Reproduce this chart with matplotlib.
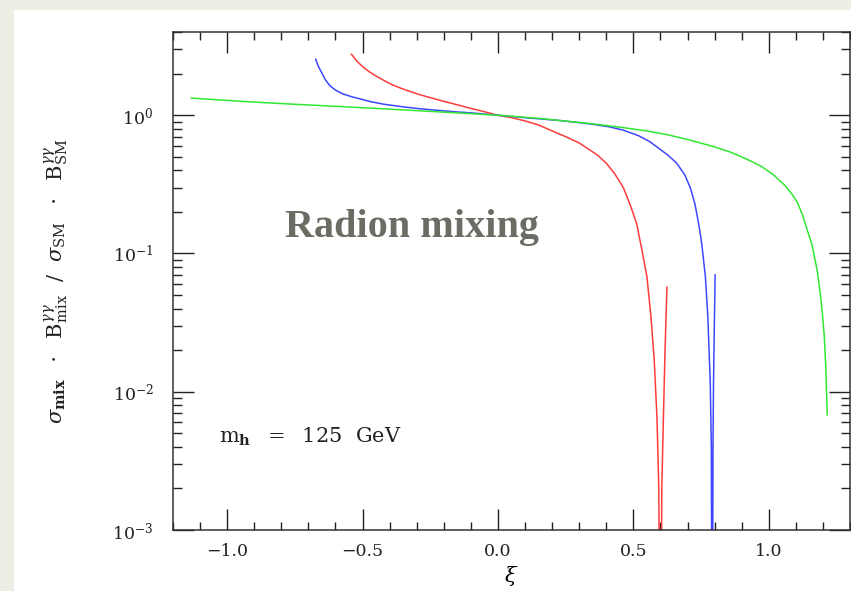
import matplotlib
matplotlib.use("Agg")
import matplotlib.pyplot as plt
from matplotlib.patches import Rectangle
from matplotlib.ticker import MultipleLocator, LogLocator, NullFormatter, FuncFormatter

plt.rcParams['font.family'] = 'DejaVu Serif'
plt.rcParams['mathtext.fontset'] = 'dejavuserif'

# curves (xi, sigma*B ratio)
xi_red = [-0.541, -0.52, -0.5, -0.475, -0.45, -0.42, -0.39, -0.352, -0.3, -0.25,
          -0.2, -0.15, -0.1, -0.05, 0.0, 0.05, 0.1, 0.15, 0.2, 0.25,
          0.3, 0.34, 0.37, 0.40, 0.43, 0.463, 0.49, 0.512, 0.53, 0.55,
          0.565, 0.577, 0.587, 0.594, 0.600, 0.605, 0.611, 0.617, 0.624]
val_red = [2.76, 2.45, 2.25, 2.06, 1.92, 1.78, 1.66, 1.55, 1.43, 1.34,
           1.26, 1.19, 1.12, 1.06, 1.00, 0.96, 0.91, 0.85, 0.77, 0.70,
           0.63, 0.56, 0.51, 0.45, 0.38, 0.30, 0.22, 0.165, 0.11, 0.068,
           0.035, 0.017, 0.0066, 0.002, 1e-5, 0.002, 0.0066, 0.02, 0.057]

xi_blue = [-0.673, -0.665, -0.655, -0.645, -0.636, -0.62, -0.6, -0.574, -0.54, -0.5,
           -0.475, -0.42, -0.35, -0.29, -0.228, -0.16, -0.1, -0.05, 0.0, 0.1,
           0.216, 0.3, 0.35, 0.41, 0.463, 0.52, 0.56, 0.587, 0.63, 0.66,
           0.69, 0.71, 0.727, 0.741, 0.752, 0.766, 0.775, 0.784, 0.788, 0.791,
           0.794, 0.796, 0.799, 0.802]
val_blue = [2.54, 2.3, 2.1, 1.93, 1.79, 1.63, 1.52, 1.43, 1.36, 1.30,
            1.26, 1.20, 1.15, 1.115, 1.087, 1.06, 1.04, 1.02, 1.00, 0.96,
            0.92, 0.885, 0.86, 0.825, 0.78, 0.71, 0.645, 0.59, 0.51, 0.45,
            0.37, 0.30, 0.23, 0.165, 0.12, 0.068, 0.035, 0.0116, 0.004, 1e-5,
            0.004, 0.0116, 0.03, 0.07]

xi_green = [-1.132, -1.0, -0.9, -0.75, -0.598, -0.45, -0.3, -0.15, 0.0, 0.15,
            0.34, 0.45, 0.55, 0.63, 0.71, 0.8, 0.86, 0.92, 0.97, 1.018, 1.06,
            1.085, 1.105, 1.125, 1.142, 1.16, 1.179, 1.19, 1.198, 1.205, 1.21, 1.216]
val_green = [1.33, 1.28, 1.245, 1.20, 1.16, 1.12, 1.08, 1.04, 1.00, 0.95,
             0.87, 0.82, 0.77, 0.72, 0.66, 0.59, 0.54, 0.48, 0.43, 0.37, 0.31,
             0.27, 0.235, 0.19, 0.148, 0.115, 0.075, 0.052, 0.037, 0.025, 0.016, 0.0068]

fig = plt.figure(figsize=(8.51, 5.91), dpi=100)
fig.patch.set_facecolor('#efeee4')
fig.patches.append(Rectangle((14 / 851, 0), 1, 1 - 10 / 591, transform=fig.transFigure,
                             facecolor='white', edgecolor='none', zorder=-10))

ax = fig.add_axes([173 / 851, 1 - 530 / 591, (850 - 173) / 851, (530 - 32) / 591])
ax.set_yscale('log')
ax.plot(xi_red, val_red, color='#ff3c3c', lw=1.1)
ax.plot(xi_blue, val_blue, color='#3c48ff', lw=1.1)
ax.plot(xi_green, val_green, color='#30e830', lw=1.1)

ax.set_xlim(-1.2, 1.3)
ax.set_ylim(1e-3, 4)
ax.xaxis.set_major_locator(MultipleLocator(0.5))
ax.xaxis.set_minor_locator(MultipleLocator(0.1))
ax.yaxis.set_major_locator(LogLocator(base=10))
ax.yaxis.set_minor_locator(LogLocator(base=10, subs=range(2, 10)))
ax.yaxis.set_minor_formatter(NullFormatter())
ax.xaxis.set_major_formatter(FuncFormatter(lambda v, p: ('%.1f' % v).replace('-', '\u2212')))
ax.tick_params(which='both', direction='in', top=True, right=True, width=1.0,
               labelsize=12.5, colors='#222222')
ax.tick_params(which='major', length=15)
ax.tick_params(axis='x', which='major', pad=9)
ax.tick_params(axis='y', which='major', pad=14)
ax.tick_params(which='minor', length=5.5)
ax.tick_params(axis='y', which='minor', length=6.5)
for s in ax.spines.values():
    s.set_linewidth(1.1)
    s.set_color('#333333')

ax.set_xlabel(r'$\xi$', fontsize=15, labelpad=3)
fig.text(57 / 851, 1 - 281 / 591,
         r'$\sigma_{\mathbf{mix}}\ \ \cdot\ \ \mathrm{B}^{\gamma\gamma}_{\mathrm{mix}}\ \ /\ \ '
         r'\sigma_{\mathrm{SM}}\ \ \cdot\ \ \mathrm{B}^{\gamma\gamma}_{\mathrm{SM}}$',
         rotation=90, ha='center', va='center', fontsize=15, color='#222222')

fig.text(412 / 851, 1 - 228 / 591, 'Radion mixing', family='Liberation Serif',
         fontweight='bold', fontsize=29, color='#6d6c64', ha='center', va='center')
fig.text(219 / 851, 1 - 437 / 591, r'$\mathrm{m}_{\mathbf{h}}\ \ =\ \ 125\ \ \mathrm{GeV}$',
         fontsize=15, color='#222222', ha='left', va='center')

fig.savefig('out.png', dpi=100)
